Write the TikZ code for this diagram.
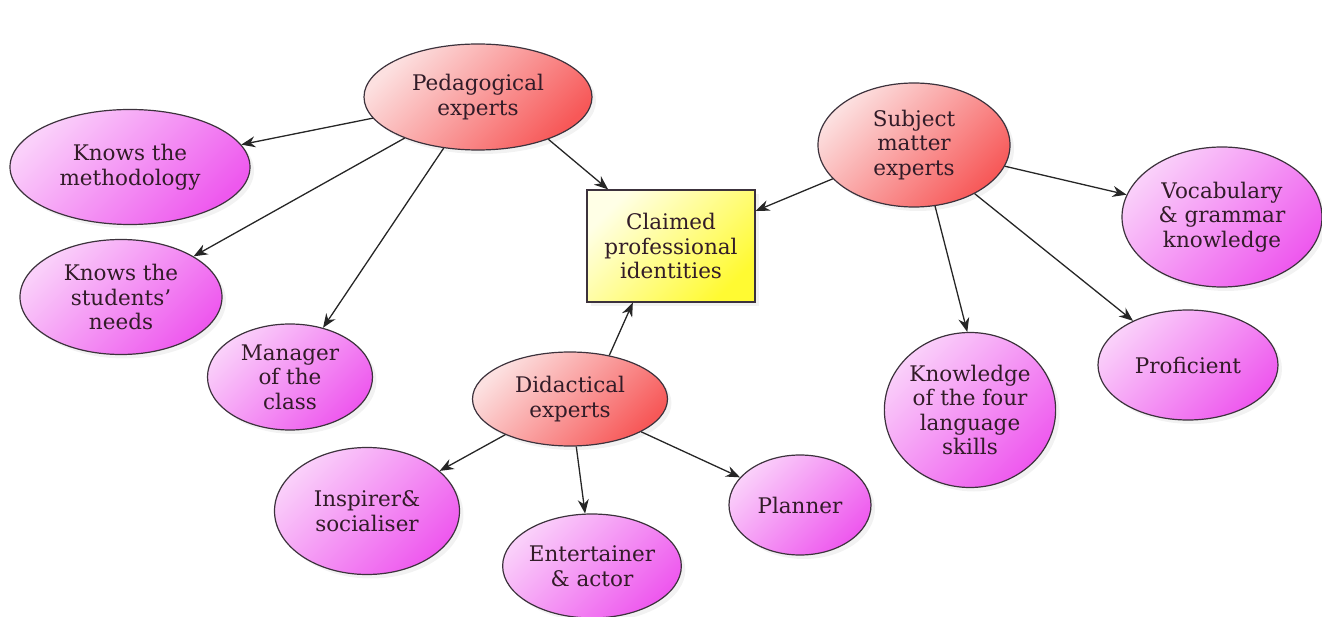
\documentclass[tikz,border=0pt]{standalone}
\usepackage{fontspec}
\setmainfont{DejaVu Serif}
\usetikzlibrary{shapes.geometric,arrows.meta,shadows}
\definecolor{pinkA}{RGB}{250,208,250}
\definecolor{pinkB}{RGB}{246,168,246}
\definecolor{pinkC}{RGB}{238,88,238}
\definecolor{redA}{RGB}{252,224,224}
\definecolor{redB}{RGB}{250,178,178}
\definecolor{redC}{RGB}{247,88,88}
\definecolor{yelA}{RGB}{255,255,230}
\definecolor{yelB}{RGB}{255,255,175}
\definecolor{yelC}{RGB}{255,250,50}
\definecolor{edgecol}{RGB}{60,50,60}
\definecolor{txtcol}{RGB}{50,28,40}
\tikzset{
  base/.style={draw=edgecol, line width=1.2pt, align=center, text=txtcol,
    font=\fontsize{21.5}{24.5}\selectfont, inner sep=0pt,
    drop shadow={shadow xshift=4pt, shadow yshift=-4pt, opacity=0.10}},
  leaf/.style={base, ellipse, top color=pinkA, middle color=pinkB, bottom color=pinkC, shading angle=45},
  hub/.style={base, ellipse, top color=redA, middle color=redB, bottom color=redC, shading angle=45},
  core/.style={base, rectangle, top color=yelA, middle color=yelB, bottom color=yelC, shading angle=45},
  arr/.style={draw=black!85, line width=1.3pt, -{Stealth[length=14pt,width=11pt]}}
}
\begin{document}
\begin{tikzpicture}[x=1pt,y=-1pt]
\useasboundingbox (0,0) rectangle (1322,617);
% hubs
\node[hub, minimum width=228pt, minimum height=106pt] (ped) at (478,97) {Pedagogical\\experts};
\node[hub, minimum width=192pt, minimum height=124pt] (sub) at (914,145) {Subject\\matter\\experts};
\node[hub, minimum width=195pt, minimum height=94pt] (did) at (570,399) {Didactical\\experts};
% core
\node[core, minimum width=168pt, minimum height=112pt] (core) at (671,246) {Claimed\\professional\\identities};
% leaves
\node[leaf, minimum width=240pt, minimum height=115pt] (meth) at (130,167) {Knows the\\methodology};
\node[leaf, minimum width=202pt, minimum height=115pt] (need) at (121,297) {Knows the\\students'\\needs};
\node[leaf, minimum width=165pt, minimum height=106pt] (man) at (290,377) {Manager\\of the\\class};
\node[leaf, minimum width=200pt, minimum height=140pt] (voc) at (1222,217) {Vocabulary\\\& grammar\\knowledge};
\node[leaf, minimum width=180pt, minimum height=110pt] (prof) at (1188,365) {Proficient};
\node[leaf, minimum width=170pt, minimum height=155pt] (four) at (970,410) {Knowledge\\of the four\\language\\skills};
\node[leaf, minimum width=185pt, minimum height=127pt] (insp) at (367,511) {Inspirer\&\\socialiser};
\node[leaf, minimum width=166pt, minimum height=104pt] (ent) at (592,566) {Entertainer\\\& actor};
\node[leaf, minimum width=142pt, minimum height=100pt] (plan) at (800,505) {Planner};
% connectors
\draw[arr] (ped) -- (meth);
\draw[arr] (ped) -- (need);
\draw[arr] (ped) -- (man);
\draw[arr] (ped.-31) -- (core.138);
\draw[arr] (sub) -- (core);
\draw[arr] (sub) -- (voc);
\draw[arr] (sub.-71) -- (four.92);
\draw[arr] (sub) -- (prof);
\draw[arr] (did.48) -- (core.-124);
\draw[arr] (did) -- (insp);
\draw[arr] (did) -- (ent);
\draw[arr] (did) -- (plan);
\end{tikzpicture}
\end{document}
